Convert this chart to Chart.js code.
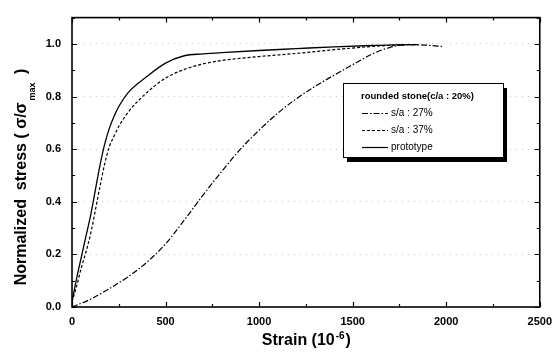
<!DOCTYPE html>
<html>
<head>
<meta charset="utf-8">
<script src="https://cdn.jsdelivr.net/npm/chart.js@4.4.1/dist/chart.umd.min.js"></script>
<style>
html,body{margin:0;padding:0;background:#fff;}
#wrap{width:560px;height:355px;position:relative;}
</style>
</head>
<body>
<div id="wrap"><canvas id="c" width="560" height="355"></canvas></div>
<script>
// ---- data ----
const xTickLabels = [0, 500, 1000, 1500, 2000, 2500];
const yTickLabels = [0.0, 0.2, 0.4, 0.6, 0.8, 1.0];
const legendTitle = "rounded stone(c/a : 20%)";
const seriesNames = ["s/a : 27%", "s/a : 37%", "prototype"];

const strain27 = [0, 100, 200, 300, 400, 500, 600, 700, 800, 900, 1000, 1100, 1200, 1300, 1400, 1500, 1600, 1700, 1800, 1900, 1980];
const stress27 = [0.0, 0.03, 0.07, 0.115, 0.17, 0.24, 0.33, 0.425, 0.515, 0.60, 0.672, 0.737, 0.792, 0.839, 0.881, 0.921, 0.96, 0.987, 0.997, 0.995, 0.99];

const strain37 = [0, 25, 50, 75, 100, 150, 175, 200, 225, 250, 300, 400, 500, 600, 700, 800, 1000, 1200, 1400, 1600, 1800, 1850];
const stress37 = [0.02, 0.08, 0.15, 0.21, 0.28, 0.46, 0.545, 0.61, 0.65, 0.686, 0.74, 0.815, 0.87, 0.903, 0.924, 0.937, 0.952, 0.964, 0.978, 0.99, 0.997, 0.997];

const strainProto = [0, 25, 50, 75, 100, 150, 175, 200, 225, 250, 300, 400, 500, 600, 700, 800, 1000, 1200, 1400, 1600, 1800, 1850];
const stressProto = [0.02, 0.11, 0.19, 0.27, 0.35, 0.54, 0.62, 0.68, 0.725, 0.762, 0.815, 0.876, 0.927, 0.955, 0.962, 0.967, 0.975, 0.982, 0.989, 0.994, 0.997, 0.997];

function pts(xs, ys){ return xs.map((x,i)=>({x:x, y:ys[i]})); }

const FONT = "'Liberation Sans', Arial, sans-serif";

const framePlugin = {
  id: 'framePlugin',
  afterDraw(chart){
    const ctx = chart.ctx;
    const a = chart.chartArea;
    const xs = chart.scales.x, ys = chart.scales.y;
    ctx.save();
    // frame
    ctx.strokeStyle = '#000';
    ctx.lineWidth = 1.6;
    ctx.strokeRect(a.left, a.top, a.right - a.left, a.bottom - a.top);
    // inward ticks
    ctx.lineWidth = 1.2;
    ctx.beginPath();
    for (let v = 0; v <= 2500; v += 250){
      const px = Math.round(xs.getPixelForValue(v)) + 0.5;
      const len = (v % 500 === 0) ? 5 : 3;
      ctx.moveTo(px, a.bottom); ctx.lineTo(px, a.bottom - len);
      ctx.moveTo(px, a.top); ctx.lineTo(px, a.top + len);
    }
    for (let k = 0; k <= 11; k++){
      const v = k / 10;
      const py = Math.round(ys.getPixelForValue(v)) + 0.5;
      const len = (k % 2 === 0) ? 5 : 3;
      ctx.moveTo(a.left, py); ctx.lineTo(a.left + len, py);
      ctx.moveTo(a.right, py); ctx.lineTo(a.right - len, py);
    }
    ctx.stroke();

    // axis titles
    ctx.fillStyle = '#000';
    ctx.textBaseline = 'alphabetic';
    // x title with superscript
    const xt1 = 'Strain (10', xt2 = '-6', xt3 = ')';
    ctx.font = 'bold 16px ' + FONT;
    const w1 = ctx.measureText(xt1).width;
    ctx.font = 'bold 10px ' + FONT;
    const w2 = ctx.measureText(xt2).width + 1;
    ctx.font = 'bold 16px ' + FONT;
    const w3 = ctx.measureText(xt3).width;
    let cx = (a.left + a.right)/2 - (w1 + w2 + w3)/2;
    const by = 345;
    ctx.textAlign = 'left';
    ctx.fillText(xt1, cx, by); cx += w1 + 1;
    ctx.font = 'bold 10px ' + FONT;
    ctx.fillText(xt2, cx, by - 6); cx += w2;
    ctx.font = 'bold 16px ' + FONT;
    ctx.fillText(xt3, cx, by);

    // y title rotated with subscript
    ctx.save();
    ctx.translate(26, 178);
    ctx.rotate(-Math.PI/2);
    const yt1 = 'Normalized  stress ( \u03c3/\u03c3', yt2 = 'max', yt3 = ' )';
    ctx.font = 'bold 16px ' + FONT;
    const u1 = ctx.measureText(yt1).width;
    ctx.font = 'bold 9px ' + FONT;
    const u2 = ctx.measureText(yt2).width + 4;
    ctx.font = 'bold 16px ' + FONT;
    const u3 = ctx.measureText(yt3).width;
    let yx = -(u1 + u2 + u3)/2;
    ctx.fillText(yt1, yx, 0); yx += u1 + 2;
    ctx.font = 'bold 9px ' + FONT;
    ctx.fillText(yt2, yx, 9); yx += u2;
    ctx.font = 'bold 16px ' + FONT;
    ctx.fillText(yt3, yx, 0);
    ctx.restore();

    // legend box
    const L = 343, T = 83, W = 160, H = 74;
    ctx.fillStyle = '#000';
    ctx.fillRect(L + 4, T + 5, W, H);
    ctx.fillStyle = '#fff';
    ctx.fillRect(L, T, W, H);
    ctx.strokeStyle = '#000';
    ctx.lineWidth = 1;
    ctx.strokeRect(L + 0.5, T + 0.5, W, H);
    ctx.fillStyle = '#000';
    ctx.font = 'bold 9.5px ' + FONT;
    ctx.textBaseline = 'middle';
    ctx.textAlign = 'left';
    ctx.fillText(legendTitle, 361, 96);
    const rowY = [113, 130, 147];
    chart.data.datasets.forEach((ds, i) => {
      ctx.beginPath();
      ctx.setLineDash(ds.borderDash || []);
      ctx.lineWidth = 1.2;
      ctx.moveTo(362, rowY[i] + 0.5); ctx.lineTo(388, rowY[i] + 0.5);
      ctx.stroke();
      ctx.setLineDash([]);
      ctx.font = '10px ' + FONT;
      ctx.fillText(ds.label, 391, rowY[i]);
    });
    ctx.restore();
  }
};

new Chart(document.getElementById('c'), {
  type: 'line',
  data: {
    datasets: [
      { label: seriesNames[0], data: pts(strain27, stress27), borderColor: '#000', borderWidth: 1.2, borderDash: [6,2,1.5,2], pointRadius: 0, fill: false, cubicInterpolationMode: 'monotone' },
      { label: seriesNames[1], data: pts(strain37, stress37), borderColor: '#000', borderWidth: 1.2, borderDash: [3,2], pointRadius: 0, fill: false, cubicInterpolationMode: 'monotone' },
      { label: seriesNames[2], data: pts(strainProto, stressProto), borderColor: '#000', borderWidth: 1.3, borderDash: [], pointRadius: 0, fill: false, cubicInterpolationMode: 'monotone' }
    ]
  },
  options: {
    responsive: false,
    animation: false,
    devicePixelRatio: 1,
    layout: { padding: { top: 6, right: 18, left: 0, bottom: 0 } },
    plugins: { legend: { display: false }, tooltip: { enabled: false }, title: { display: false } },
    scales: {
      x: {
        type: 'linear', min: 0, max: 2500,
        afterBuildTicks: s => { s.ticks = xTickLabels.map(v => ({ value: v })); },
        ticks: { color: '#000', font: { family: FONT, size: 11, weight: 'bold' }, padding: 8, maxRotation: 0,
                 callback: v => String(v) },
        grid: { display: false, drawTicks: false },
        border: { display: false },
        afterFit: s => { s.height = 48; }
      },
      y: {
        type: 'linear', min: 0, max: 1.1,
        afterBuildTicks: s => { s.ticks = yTickLabels.map(v => ({ value: v })); },
        ticks: { color: '#000', font: { family: FONT, size: 11, weight: 'bold' }, padding: 11,
                 callback: v => Number(v).toFixed(1) },
        grid: { display: true, drawTicks: false, color: ctx => (ctx.tick && ctx.tick.value > 0) ? '#c4c4c4' : 'rgba(0,0,0,0)', lineWidth: 1 },
        border: { display: false, dash: [1,5] },
        afterFit: s => { s.width = 72; }
      }
    }
  },
  plugins: [framePlugin]
});
</script>
</body>
</html>
